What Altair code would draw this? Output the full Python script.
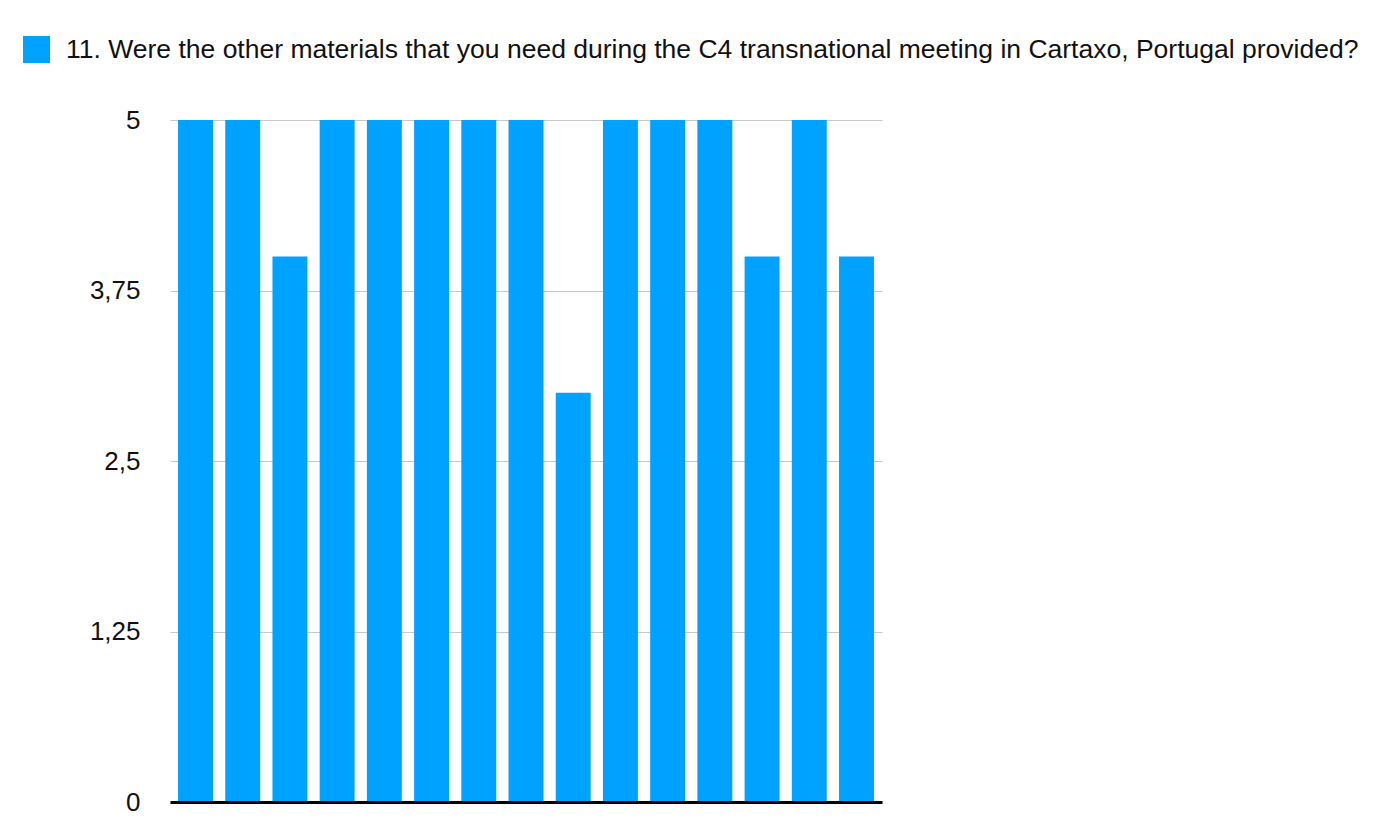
import altair as alt
import pandas as pd

responses = [str(i) for i in range(1, 16)]
values = [5, 5, 4, 5, 5, 5, 5, 5, 3, 5, 5, 5, 4, 5, 4]
series_name = "11. Were the other materials that you need during the C4 transnational meeting in Cartaxo, Portugal provided?"
y_ticks = [0, 1.25, 2.5, 3.75, 5]

df = pd.DataFrame({"response": responses, "value": values, "series": [series_name] * len(values)})

bars = alt.Chart(df).mark_bar(color="#00A2FF").encode(
    x=alt.X("response:N", sort=responses, title=None,
            scale=alt.Scale(paddingInner=0.26, paddingOuter=0.17),
            axis=alt.Axis(labels=False, ticks=False, domain=True, domainColor="#000000",
                          domainWidth=3, grid=False, zindex=2)),
    y=alt.Y("value:Q", title=None,
            scale=alt.Scale(domain=[0, 5], nice=False),
            axis=alt.Axis(values=y_ticks, domain=False, ticks=False, grid=True,
                          gridColor="#c8c8c8", gridWidth=1,
                          labelExpr="replace(toString(datum.value), '.', ',')",
                          labelFontSize=26, labelColor="#111111", labelPadding=30,
                          labelFont="Liberation Sans")),
    color=alt.Color("series:N", scale=alt.Scale(range=["#00A2FF"]),
                    legend=alt.Legend(title=None, orient="none", legendX=-147, legendY=-84,
                                      symbolType="square", symbolSize=729,
                                      symbolStrokeWidth=0, padding=0,
                                      labelFontSize=26.5, labelFont="Liberation Sans",
                                      labelColor="#111111", labelLimit=2000,
                                      labelOffset=16)),
)

chart = bars.properties(
    width=712, height=682,
    autosize=alt.AutoSizeParams(type="none"),
    padding={"left": 162, "top": 112, "right": 489, "bottom": 13},
).configure(background="white").configure_view(stroke=None, strokeWidth=0)

chart.save("out.html", embed_options={"renderer": "svg", "actions": False})
